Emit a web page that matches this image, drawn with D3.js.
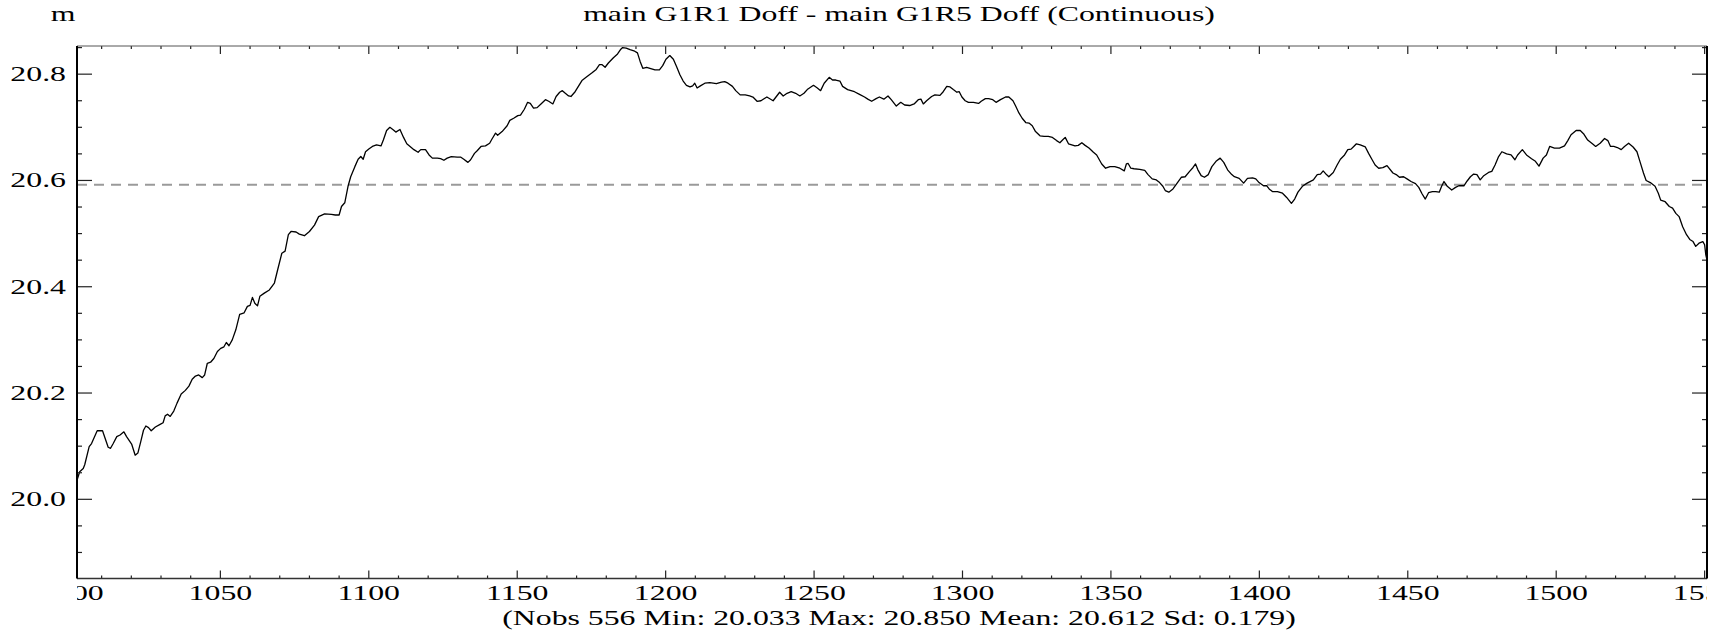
<!DOCTYPE html>
<html><head><meta charset="utf-8">
<script src="https://cdn.jsdelivr.net/npm/d3@7"></script>
<style>
body{margin:0;background:#fff}
svg{display:block;background:#fff}
text{font-family:"Liberation Serif","Times New Roman",serif;fill:#000}
</style>
</head><body>
<svg id="chart" width="1725" height="634"></svg>
<script>
// ---- data ----
const xValues = [
1001.7,1002.6,1003.8,1004.3,1005.8,1006.6,1008.5,1010.3,1012.2,1013.0,1013.9,1015.1,1016.2,1017.5,1018.4,1020.1,1021.3,1022.2,1023.2,1024.1,
1024.9,1025.8,1026.7,1028.1,1029.7,1030.7,1031.4,1032.2,1033.1,1034.3,1035.4,1036.8,1038.2,1039.4,1040.5,1041.6,1042.7,1043.9,1044.7,1045.6,
1046.7,1047.8,1049.0,1050.1,1051.2,1052.0,1052.9,1054.0,1055.2,1056.5,1058.0,1059.1,1060.0,1060.8,1061.6,1062.5,1063.3,1064.8,1066.5,1068.2,
1069.3,1070.7,1071.8,1072.9,1073.8,1075.5,1076.6,1078.3,1080.0,1081.7,1083.1,1085.1,1087.4,1088.7,1090.0,1090.8,1091.9,1093.0,1093.9,1095.3,
1096.4,1097.3,1098.1,1098.9,1100.0,1101.2,1102.6,1104.1,1104.9,1106.0,1107.1,1108.3,1109.1,1110.5,1111.7,1112.8,
1114.1,1115.2,1116.6,1117.5,1119.1,1120.3,1121.4,1123.1,1124.2,1125.3,1126.4,1127.8,1129.8,1130.9,1132.0,1133.4,1134.3,1135.6,1136.5,1137.8,
1139.3,1140.7,1141.5,1142.7,1143.4,1144.9,1146.6,1147.5,1148.8,1150.2,1151.1,1152.4,1153.5,1154.4,1155.5,1156.7,1158.0,1159.5,1160.6,1162.0,
1163.1,1164.3,1165.2,1166.2,1167.3,1168.1,1169.5,1170.7,1171.8,1173.2,1175.1,1176.6,1177.7,1178.5,1179.6,1180.7,1182.4,1183.8,1184.9,1185.5,
1186.7,1188.0,1189.3,1190.5,1191.4,1192.3,1193.6,1194.7,1196.4,1197.9,1199.0,1200.1,1201.4,1202.6,1203.7,1204.8,1205.9,1207.0,1208.2,1209.1,
1209.8,1210.6,1211.7,1213.2,1214.9,1216.0,1217.1,1218.8,1219.9,1221.0,1222.5,1223.6,
1225.1,1226.8,1228.3,1229.4,1230.8,1232.1,1234.1,1236.2,1237.3,1238.4,1239.6,1240.9,1242.3,1243.8,1245.2,1246.6,1247.7,1249.8,1251.1,1252.2,
1253.4,1255.1,1256.2,1257.3,1258.7,1259.6,1261.3,1263.6,1265.3,1267.0,1268.1,1269.4,1270.9,1272.0,1273.5,1274.9,1276.0,1277.7,1279.2,1280.5,
1282.2,1283.7,1285.1,1286.0,1286.8,1287.9,1289.6,1290.7,1292.4,1293.5,1294.7,1295.8,1296.9,1298.1,1298.9,1299.8,1300.9,1302.0,1303.7,1305.4,
1306.3,1307.7,1308.8,1310.2,1311.3,1312.8,1314.5,1315.6,1317.0,1317.9,1319.0,1320.1,1321.3,1322.4,1323.5,1324.6,1326.1,1327.5,1328.9,1330.3,
1331.7,1332.8,1333.7,1334.6,1335.7,
1337.9,1339.0,1340.2,1341.3,1342.6,1344.1,1345.2,1346.0,1346.9,1348.2,1349.7,1351.3,1353.0,1354.5,1355.2,1355.8,1356.7,1357.8,1359.7,1361.4,
1362.5,1363.9,1365.3,1366.4,1367.5,1368.3,1369.5,1370.9,1372.3,1373.7,1375.0,1376.5,1377.6,1378.5,1379.3,1380.4,1381.5,1382.8,1384.0,1385.4,
1386.8,1388.0,1389.3,1390.7,1391.6,1393.2,1394.7,1396.0,1397.7,1398.8,1399.9,1401.4,1402.5,1403.3,1404.4,1406.1,1407.8,1409.2,1410.8,1411.9,
1413.0,1414.5,1416.1,1418.2,1419.5,1420.6,1421.5,1422.6,1423.4,1424.9,1426.2,1427.3,1428.7,1429.8,1430.9,1431.8,1432.7,1434.0,1435.7,1436.8,
1437.9,1439.0,1440.2,1441.6,1443.0,
1445.0,1446.1,1447.2,1448.6,1450.0,1451.1,1452.6,1453.7,1454.8,1455.9,1457.0,1458.3,1459.4,1460.6,1461.4,1462.2,1463.3,1464.8,1466.1,1467.2,
1468.9,1470.0,1471.1,1472.2,1473.3,1474.4,1475.6,1477.2,1478.3,1479.4,1480.6,1481.7,1483.3,1484.8,1486.1,1487.0,1488.6,1490.0,1491.7,1493.0,
1494.2,1495.6,1496.7,1497.8,1499.4,1501.1,1502.8,1503.9,1505.0,1506.7,1508.1,1509.2,1510.6,1512.2,1513.3,1514.8,1516.3,1517.4,1518.3,1519.4,
1520.6,1521.9,1523.0,1524.4,1525.9,1527.2,1528.3,1529.4,1530.3,1531.7,1533.3,1534.4,1535.2,1536.7,1538.1,1539.2,1540.3,1541.4,1542.6,1543.9,
1545.0,1546.1,1547.0,1548.1,1549.4,1550.0,1550.4,1550.8
];
const yValues = [
20.036,20.052,20.058,20.065,20.099,20.105,20.129,20.129,20.098,20.096,20.105,20.118,20.121,20.127,20.118,20.104,20.083,20.087,20.109,20.130,
20.138,20.135,20.129,20.136,20.141,20.144,20.157,20.160,20.156,20.166,20.181,20.198,20.205,20.213,20.226,20.232,20.234,20.229,20.234,20.256,
20.258,20.265,20.278,20.284,20.287,20.295,20.289,20.300,20.319,20.348,20.351,20.363,20.365,20.380,20.369,20.364,20.382,20.388,20.394,20.407,
20.432,20.463,20.467,20.498,20.504,20.503,20.499,20.496,20.504,20.516,20.532,20.537,20.536,20.535,20.535,20.551,20.558,20.589,20.607,20.626,
20.640,20.645,20.640,20.654,20.659,20.664,20.667,20.665,20.676,20.694,20.700,20.695,20.691,20.696,20.681,20.669,
20.663,20.658,20.653,20.658,20.658,20.648,20.642,20.642,20.641,20.638,20.642,20.645,20.644,20.644,20.640,20.634,20.639,20.651,20.656,20.664,
20.665,20.670,20.678,20.689,20.685,20.692,20.703,20.713,20.717,20.722,20.723,20.734,20.747,20.745,20.736,20.737,20.744,20.752,20.749,20.744,
20.758,20.766,20.769,20.764,20.759,20.758,20.767,20.778,20.788,20.794,20.802,20.809,20.818,20.818,20.813,20.821,20.831,20.838,20.847,20.850,
20.849,20.846,20.844,20.840,20.824,20.811,20.813,20.811,20.808,20.808,20.816,20.828,20.835,20.828,20.814,20.799,20.787,20.779,20.776,20.778,
20.783,20.774,20.778,20.783,20.784,20.783,20.782,20.785,20.786,20.783,20.777,20.769,
20.761,20.761,20.759,20.757,20.749,20.750,20.757,20.750,20.758,20.766,20.759,20.764,20.767,20.764,20.759,20.764,20.771,20.779,20.774,20.769,
20.783,20.794,20.789,20.789,20.787,20.777,20.771,20.767,20.762,20.757,20.753,20.749,20.754,20.757,20.753,20.759,20.752,20.740,20.747,20.742,
20.741,20.744,20.752,20.753,20.744,20.750,20.758,20.761,20.760,20.767,20.777,20.776,20.771,20.766,20.767,20.757,20.750,20.747,20.747,20.745,
20.749,20.754,20.754,20.752,20.747,20.752,20.757,20.757,20.750,20.740,20.727,20.717,20.709,20.708,20.703,20.692,20.684,20.683,20.683,20.681,
20.675,20.671,20.676,20.681,20.669,
20.665,20.666,20.671,20.666,20.661,20.653,20.648,20.640,20.631,20.623,20.626,20.626,20.623,20.618,20.631,20.632,20.623,20.622,20.621,20.619,
20.611,20.603,20.601,20.596,20.589,20.581,20.578,20.584,20.595,20.606,20.607,20.617,20.624,20.631,20.620,20.609,20.606,20.611,20.626,20.636,
20.642,20.634,20.620,20.611,20.607,20.604,20.595,20.604,20.605,20.603,20.596,20.590,20.590,20.584,20.579,20.579,20.576,20.568,20.557,20.565,
20.578,20.589,20.595,20.601,20.611,20.612,20.618,20.611,20.607,20.615,20.629,20.640,20.648,20.658,20.659,20.664,20.669,20.667,20.663,20.651,
20.640,20.629,20.623,20.624,20.628,
20.614,20.611,20.606,20.607,20.602,20.598,20.594,20.587,20.575,20.565,20.577,20.579,20.579,20.578,20.589,20.598,20.589,20.582,20.587,20.590,
20.590,20.599,20.607,20.612,20.611,20.601,20.609,20.615,20.617,20.629,20.645,20.654,20.650,20.648,20.639,20.648,20.658,20.648,20.641,20.636,
20.627,20.642,20.648,20.664,20.661,20.661,20.665,20.675,20.686,20.694,20.694,20.688,20.676,20.669,20.664,20.670,20.679,20.675,20.664,20.664,
20.662,20.658,20.664,20.670,20.663,20.654,20.634,20.614,20.600,20.596,20.589,20.576,20.563,20.560,20.551,20.548,20.538,20.532,20.513,20.498,
20.489,20.485,20.476,20.482,20.485,20.479,20.460,20.450
];
const xTickValues = [1000,1050,1100,1150,1200,1250,1300,1350,1400,1450,1500,1550];
const xTickLabels = ["1000","1050","1100","1150","1200","1250","1300","1350","1400","1450","1500","1550"];
const xMinorStep = 10;
const yTickValues = [20.0,20.2,20.4,20.6,20.8];
const yTickLabels = ["20.0","20.2","20.4","20.6","20.8"];
const yMinorStep = 0.05;
const yDomain = [19.851, 20.853];
const refLevel = 20.592;
const unitLabel = "m";
const titleText = "main G1R1 Doff - main G1R5 Doff (Continuous)";
const statsText = "(Nobs 556 Min: 20.033 Max: 20.850 Mean: 20.612 Sd: 0.179)";

// ---- layout ----
const W = 1725, H = 634;
const M = {left: 77, right: 18, top: 46, bottom: 55.5};
const SX = 1.59, FS = 20;
const pts = xValues.map((x, i) => ({x, y: yValues[i]}));

const svg = d3.select("#chart");
const x = d3.scaleLinear().domain(d3.extent(xValues)).range([M.left, W - M.right]);
const y = d3.scaleLinear().domain(yDomain).range([H - M.bottom, M.top]);
const [x0, x1] = x.range();
const [yb, yt] = y.range();

function stretchedText(g, tx, ty, str, anchor) {
  return g.append("text")
    .attr("transform", `translate(${tx},${ty}) scale(${SX},1)`)
    .attr("text-anchor", anchor)
    .style("font-size", FS + "px")
    .text(str);
}

// clip for x tick labels and the plot line
const defs = svg.append("defs");
defs.append("clipPath").attr("id", "xlabclip").append("rect")
  .attr("x", x0).attr("y", 0).attr("width", x1 - x0).attr("height", H);
defs.append("clipPath").attr("id", "plotclip").append("rect")
  .attr("x", x0).attr("y", yt - 2).attr("width", x1 - x0).attr("height", yb - yt + 4);

// reference dashed line
svg.append("line")
  .attr("x1", x0).attr("x2", x1)
  .attr("y1", y(refLevel)).attr("y2", y(refLevel))
  .attr("stroke", "#9a9a9a").attr("stroke-width", 2)
  .attr("stroke-dasharray", "10,7");

// data line
svg.append("path")
  .datum(pts)
  .attr("clip-path", "url(#plotclip)")
  .attr("fill", "none")
  .attr("stroke", "#000")
  .attr("stroke-width", 1.3)
  .attr("stroke-linejoin", "round")
  .attr("d", d3.line().x(d => x(d.x)).y(d => y(d.y)));

// ticks
const tickG = svg.append("g").attr("stroke", "#222");
const xd = x.domain();
const xMinor = d3.range(Math.ceil(xd[0] / xMinorStep) * xMinorStep, xd[1] + 1e-9, xMinorStep)
  .filter(v => !xTickValues.includes(v));
const xMajorIn = xTickValues.filter(v => v >= xd[0] && v <= xd[1]);
[[xMinor, 3], [xMajorIn, 8]].forEach(([vals, len]) => {
  vals.forEach(v => {
    const px = x(v);
    tickG.append("line").attr("x1", px).attr("x2", px).attr("y1", yb).attr("y2", yb - len).attr("stroke-width", 1.2);
    tickG.append("line").attr("x1", px).attr("x2", px).attr("y1", yt).attr("y2", yt + len).attr("stroke-width", 1.2);
  });
});
const yMinor = d3.range(0, Math.round((yDomain[1] - yDomain[0]) / yMinorStep) + 1)
  .map(i => +(Math.ceil(yDomain[0] / yMinorStep - 1e-6) * yMinorStep + i * yMinorStep).toFixed(3))
  .filter(v => v <= yDomain[1] && !yTickValues.some(t => Math.abs(t - v) < 1e-6));
[[yMinor, 5], [yTickValues, 15]].forEach(([vals, len]) => {
  vals.forEach(v => {
    const py = y(v);
    tickG.append("line").attr("x1", x0).attr("x2", x0 + len).attr("y1", py).attr("y2", py).attr("stroke-width", 1.2);
    tickG.append("line").attr("x1", x1).attr("x2", x1 - len).attr("y1", py).attr("y2", py).attr("stroke-width", 1.2);
  });
});

// frame
svg.append("line").attr("x1", x0).attr("x2", x1).attr("y1", yt).attr("y2", yt).attr("stroke", "#555").attr("stroke-width", 1);
svg.append("line").attr("x1", x0).attr("x2", x1).attr("y1", yb).attr("y2", yb).attr("stroke", "#333").attr("stroke-width", 1.5);
svg.append("line").attr("x1", x0).attr("x2", x0).attr("y1", yt).attr("y2", yb).attr("stroke", "#000").attr("stroke-width", 2);
svg.append("line").attr("x1", x1).attr("x2", x1).attr("y1", yt).attr("y2", yb).attr("stroke", "#000").attr("stroke-width", 2);

// y tick labels
const yLabG = svg.append("g");
yTickValues.forEach((v, i) => stretchedText(yLabG, x0 - 11, y(v) + 7, yTickLabels[i], "end"));

// x tick labels (clipped to the plot width, as in the reference)
const xLabG = svg.append("g").attr("clip-path", "url(#xlabclip)");
xTickValues.forEach((v, i) => stretchedText(xLabG, x(v), yb + 21, xTickLabels[i], "middle"));

// title, unit, stats
stretchedText(svg, 63, 21, unitLabel, "middle");
stretchedText(svg, 899, 21, titleText, "middle");
stretchedText(svg, 899, 625, statsText, "middle");
</script>
</body></html>
